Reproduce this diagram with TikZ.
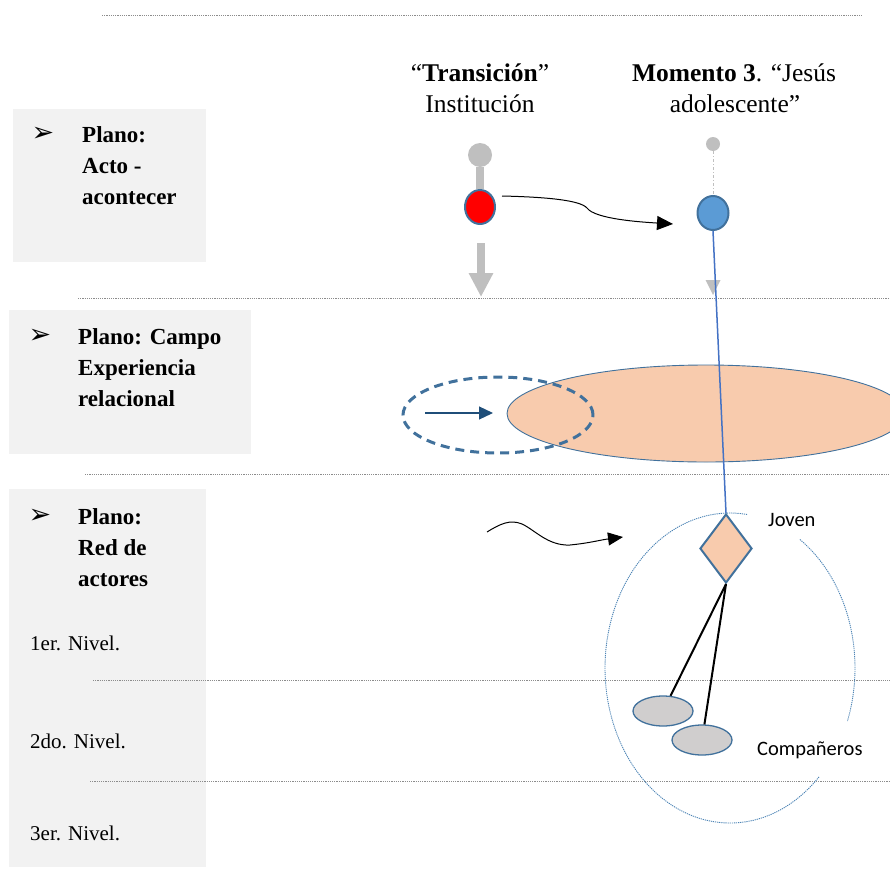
\documentclass[tikz,border=0pt]{standalone}
\usepackage{fontspec}
\setmainfont{Liberation Serif}
\newfontfamily\calib{Carlito}
\newfontfamily\djv{DejaVu Sans}
\usetikzlibrary{shapes.geometric,arrows.meta}
\definecolor{panelgray}{HTML}{F2F2F2}
\definecolor{sepgray}{HTML}{8C8C8C}
\definecolor{peach}{HTML}{F8CBAD}
\definecolor{bordblue}{HTML}{41719C}
\definecolor{fillblue}{HTML}{5B9BD5}
\definecolor{lineblue}{HTML}{4472C4}
\definecolor{darkblue}{HTML}{1F4E79}
\definecolor{ltgray}{HTML}{BFBFBF}
\definecolor{ovgray}{HTML}{D0CECE}
\tikzset{
  panel/.style={fill=panelgray, draw=none},
  sepline/.style={draw=sepgray, line width=0.8pt, dash pattern=on 1.2pt off 1pt},
  ptext/.style={font=\fontsize{23}{31}\selectfont\bfseries, anchor=base west, inner sep=0pt},
  ntext/.style={font=\fontsize{21}{25}\selectfont, anchor=base west, inner sep=0pt},
  ttext/.style={font=\fontsize{25.5}{31}\selectfont, anchor=base, inner sep=0pt},
  ctext/.style={font=\calib\fontsize{20.5}{24}\selectfont, anchor=base west, inner sep=0pt},
  bul/.style={font=\djv\fontsize{27}{30}\selectfont, inner sep=0pt},
  ovalnode/.style={ellipse, inner sep=0pt},
  dotell/.style={draw=fillblue!85!black, line width=0.9pt, dash pattern=on 1.2pt off 0.9pt},
}
\begin{document}
\begin{tikzpicture}[x=1pt,y=-1pt]
\useasboundingbox (0,0) rectangle (890,880);
\begin{scope}
\clip (0,0) rectangle (890,880);
% panels
\fill[panel] (13,109) rectangle (206,262);
\fill[panel] (9,310) rectangle (251,454);
\fill[panel] (9,489) rectangle (206,867);
% separator lines
\draw[sepline] (102,15) -- (862,15);
\draw[sepline] (78,298) -- (890,298);
\draw[sepline] (85,474) -- (890,474);
\draw[sepline] (93,680) -- (890,680);
\draw[sepline] (90,781) -- (890,781);
% panel texts
\node[bul] (b1) at (43,134) {➢};
\node[ptext] (p1a) at (82,142) {Plano:};
\node[ptext] (p1b) at (82,173) {Acto -};
\node[ptext] (p1c) at (82,204) {acontecer};
\node[bul] (b2) at (40,336) {➢};
\node[ptext] (p2a) at (78,344) {Plano: Campo};
\node[ptext] (p2b) at (78,375) {Experiencia};
\node[ptext] (p2c) at (78,406) {relacional};
\node[bul] (b3) at (40,516) {➢};
\node[ptext] (p3a) at (78,524) {Plano:};
\node[ptext] (p3b) at (78,555) {Red de};
\node[ptext] (p3c) at (78,586) {actores};
\node[ntext] (n1) at (30,650) {1er. Nivel.};
\node[ntext] (n2) at (30,748) {2do. Nivel.};
\node[ntext] (n3) at (30,840) {3er. Nivel.};
% top titles
\node[ttext] (t1) at (480,82) {“\textbf{Transición}”};
\node[ttext] (t2) at (480,113) {Institución};
\node[ttext] (t3) at (734,82) {\textbf{Momento 3}. “Jesús};
\node[ttext] (t4) at (735,113) {adolescente”};
% top left column
\node[circle, fill=ltgray, minimum size=24pt, inner sep=0pt] (c1) at (480,155) {};
\node[ovalnode, fill=red, draw=bordblue, line width=2pt, minimum width=30pt, minimum height=34pt] (r) at (480,207) {};
\draw[ltgray, line width=8pt] (c1.south) -- (r.north);
\coordinate (ga1) at (481,243);
\coordinate (ga2) at (481,297);
\draw[ltgray, line width=8pt, -{Triangle[length=24pt,width=23pt]}] (ga1) -- (ga2);
% top right column
\node[circle, fill=ltgray, minimum size=14pt, inner sep=0pt] (c2) at (713,144) {};
\node[ovalnode, fill=fillblue, draw=bordblue, line width=2pt, minimum width=31pt, minimum height=34pt] (b) at (713,213) {};
\draw[ltgray, line width=1pt, dash pattern=on 3pt off 2pt on 1pt off 2pt] (c2.south) -- (b.north);
\fill[ltgray] (705.5,280) -- (720.5,280) -- (713,295) -- cycle;
% curved arrow
\coordinate (ca) at (502,196);
\coordinate (cb) at (673,224);
\draw[black, line width=1pt, -{Triangle[length=16pt,width=14pt]}] (ca) .. controls (545,197) and (580,200) .. (587,208) .. controls (595,219) and (640,222) .. (cb);
% experience plane
\node[ovalnode, fill=peach, draw=bordblue, line width=0.9pt, minimum width=398pt, minimum height=97pt] (pe) at (706,413.5) {};
\node[ovalnode, draw=bordblue, line width=3pt, dash pattern=on 9pt off 6pt, minimum width=190pt, minimum height=76pt] (de) at (498,415) {};
\coordinate (ia) at (425,413);
\coordinate (ib) at (493,413);
\draw[darkblue, line width=1.2pt, -{Triangle[length=14pt,width=13pt]}] (ia) -- (ib);
% actors plane
\node[diamond, fill=peach, draw=bordblue, line width=2pt, minimum width=52pt, minimum height=69pt, inner sep=0pt] (d) at (726,548.5) {};
\draw[lineblue, line width=1.5pt] (b.south) -- (d.north);
\node[ovalnode, fill=ovgray, draw=bordblue, line width=1.3pt, minimum width=60pt, minimum height=30pt] (e1) at (663,711) {};
\node[ovalnode, fill=ovgray, draw=bordblue, line width=1.3pt, minimum width=60pt, minimum height=30pt] (e2) at (702,740) {};
\draw[black, line width=2pt] (d.south) -- (e1);
\draw[black, line width=2pt] (d.south) -- (e2);
% dotted enclosing ellipse with gaps
\draw[dotell] plot[domain=-56:20, samples=60] ({730+125*cos(\x)}, {668+155*sin(\x)});
\draw[dotell] plot[domain=44.6:278, samples=150] ({730+125*cos(\x)}, {668+155*sin(\x)});
% wavy arrow
\coordinate (wa) at (487,532);
\coordinate (wb) at (623,537);
\draw[black, line width=1pt, -{Triangle[length=15pt,width=13pt]}] (wa) .. controls (500,524) and (510,519) .. (522,524) .. controls (535,530) and (548,546) .. (570,545) .. controls (590,543) and (600,540) .. (wb);
% labels
\node[ctext] (jv) at (768,526) {Joven};
\node[ctext] (cp) at (757,755) {Compañeros};
\end{scope}
\end{tikzpicture}
\end{document}
